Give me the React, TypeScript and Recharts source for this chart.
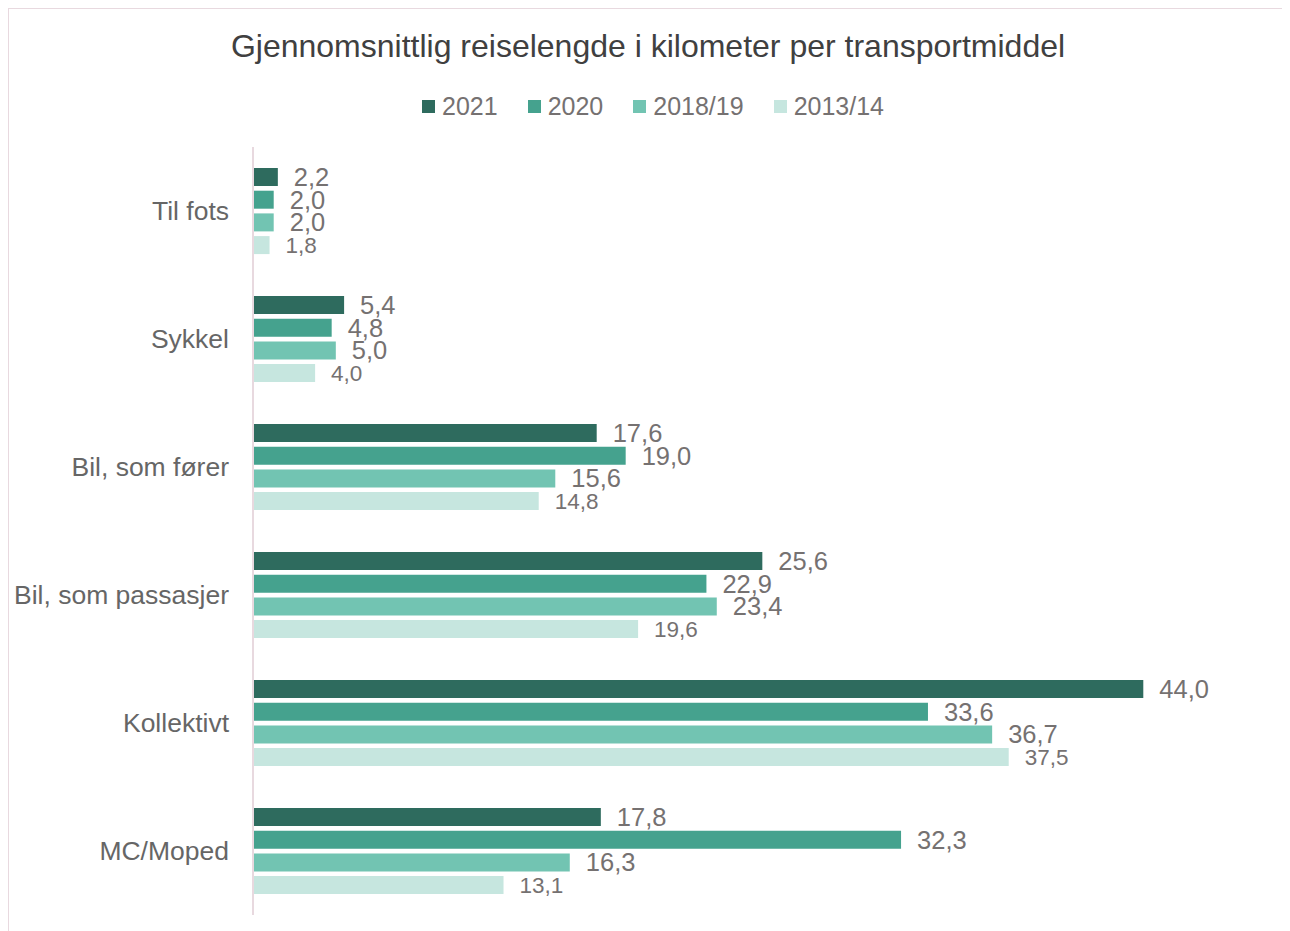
import { Bar, BarChart, LabelList, XAxis, YAxis } from "recharts";

const categories = ["Til fots", "Sykkel", "Bil, som fører", "Bil, som passasjer", "Kollektivt", "MC/Moped"];
const v2021 = [2.2, 5.4, 17.6, 25.6, 44.0, 17.8];
const v2020 = [2.0, 4.8, 19.0, 22.9, 33.6, 32.3];
const v2018 = [2.0, 5.0, 15.6, 23.4, 36.7, 16.3];
const v2013 = [1.8, 4.0, 14.8, 19.6, 37.5, 13.1];

const series = [
  { key: "y2021", name: "2021", color: "#2e6b5e", values: v2021, labelSize: 25.5 },
  { key: "y2020", name: "2020", color: "#45a28e", values: v2020, labelSize: 25.5 },
  { key: "y2018", name: "2018/19", color: "#72c4b2", values: v2018, labelSize: 25.5 },
  { key: "y2013", name: "2013/14", color: "#c6e6df", values: v2013, labelSize: 22.5 },
];

const data = categories.map((c, i) => {
  const row: Record<string, string | number> = { name: c };
  series.forEach((s) => (row[s.key] = s.values[i]));
  return row;
});

const font = '"Liberation Sans", Arial, sans-serif';
const fmt = (v: unknown) => Number(v).toFixed(1).replace(".", ",");

export default function App() {
  return (
    <div
      style={{
        position: "relative",
        width: 1278,
        height: 940,
        border: "1px solid #e8d9df",
        fontFamily: font,
        background: "#fff",
      }}
    >
      <div
        style={{
          position: "absolute",
          top: 19,
          left: 0,
          width: 1278,
          textAlign: "center",
          fontSize: 32,
          color: "#404040",
        }}
      >
        Gjennomsnittlig reiselengde i kilometer per transportmiddel
      </div>
      <div
        style={{
          position: "absolute",
          top: 83,
          left: 0,
          width: 1278,
          display: "flex",
          justifyContent: "center",
          gap: 30,
          fontSize: 25,
          color: "#757171",
          paddingLeft: 10,
          boxSizing: "border-box",
        }}
      >
        {series.map((s) => (
          <div key={s.key} style={{ display: "flex", alignItems: "center" }}>
            <span style={{ width: 13, height: 13, background: s.color, display: "inline-block", marginRight: 7 }} />
            {s.name}
          </div>
        ))}
      </div>
      <BarChart
        width={1278}
        height={940}
        data={data}
        layout="vertical"
        margin={{ top: 138, right: 123, bottom: 34, left: 0 }}
        barSize={18}
        barGap={4.7}
        style={{ position: "absolute", top: 0, left: 0 }}
      >
        <XAxis type="number" domain={[1, 45]} hide />
        <YAxis
          type="category"
          dataKey="name"
          width={244}
          tickLine={false}
          tickSize={0}
          tickMargin={24}
          axisLine={{ stroke: "#e8d9df", strokeWidth: 2 }}
          tick={{ fill: "#666666", fontSize: 26.5, fontFamily: font }}
        />
        {series.map((s) => (
          <Bar key={s.key} dataKey={s.key} name={s.name} fill={s.color} isAnimationActive={false}>
            <LabelList
              dataKey={s.key}
              position="right"
              offset={16}
              formatter={fmt}
              style={{ fill: "#757171", fontSize: s.labelSize, fontFamily: font }}
            />
          </Bar>
        ))}
      </BarChart>
    </div>
  );
}
